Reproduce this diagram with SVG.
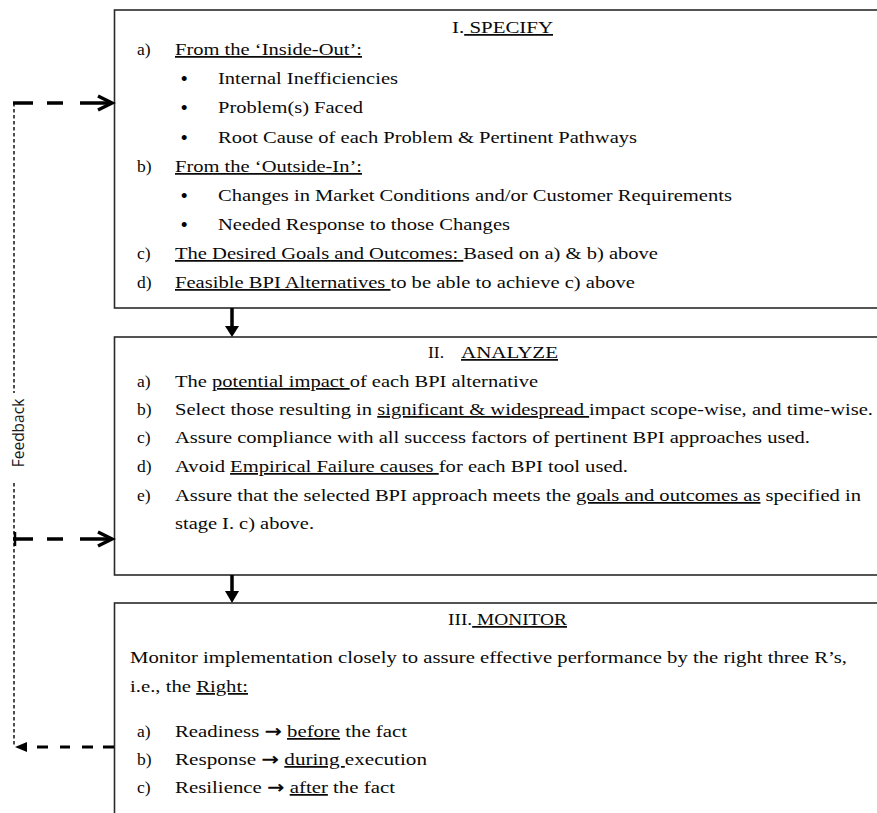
<svg xmlns="http://www.w3.org/2000/svg" width="877" height="813" viewBox="0 0 877 813">
<style>
.box{fill:#fff;stroke:#2a2a2a;stroke-width:1.6}
.t{font-family:"Liberation Serif","Times New Roman",serif;font-size:17.5px;fill:#0a0a0a}
.b{font-family:"Liberation Serif","Times New Roman",serif;font-size:21px;fill:#000}
.u{text-decoration:underline}
.ar{font-family:"DejaVu Sans",sans-serif;font-weight:bold}
.fb{font-family:"Open Sans","Noto Sans",sans-serif;font-size:15.5px;fill:#1a1a1a}
.dash{stroke:#000;stroke-width:3.5;fill:none}
.dot{stroke:#222;stroke-width:1.6;stroke-dasharray:3.5 2.5;fill:none}
.shaft{stroke:#000;stroke-width:3.5}
</style>
<rect width="877" height="813" fill="#fff"/>
<g id="specify">
<rect class="box" x="114.5" y="10" width="790" height="298"/>
<text class="t" x="452" y="33" textLength="101" lengthAdjust="spacingAndGlyphs">I.<tspan class="u"> SPECIFY</tspan></text>
<text class="t" x="137" y="55">a)</text>
<text class="t u" x="175" y="55" textLength="187" lengthAdjust="spacingAndGlyphs">From the ‘Inside-Out’:</text>
<text class="b" x="180.5" y="85.5">•</text>
<text class="t" x="218" y="84" textLength="180" lengthAdjust="spacingAndGlyphs">Internal Inefficiencies</text>
<text class="b" x="180.5" y="114.5">•</text>
<text class="t" x="218" y="113" textLength="145" lengthAdjust="spacingAndGlyphs">Problem(s) Faced</text>
<text class="b" x="180.5" y="144.5">•</text>
<text class="t" x="218" y="143" textLength="419" lengthAdjust="spacingAndGlyphs">Root Cause of each Problem &amp; Pertinent Pathways</text>
<text class="t" x="137" y="172">b)</text>
<text class="t u" x="175" y="172" textLength="187" lengthAdjust="spacingAndGlyphs">From the ‘Outside-In’:</text>
<text class="b" x="180.5" y="202.5">•</text>
<text class="t" x="218" y="201" textLength="514" lengthAdjust="spacingAndGlyphs">Changes in Market Conditions and/or Customer Requirements</text>
<text class="b" x="180.5" y="231.5">•</text>
<text class="t" x="218" y="230" textLength="292" lengthAdjust="spacingAndGlyphs">Needed Response to those Changes</text>
<text class="t" x="137" y="259">c)</text>
<text class="t" x="175" y="259" textLength="483" lengthAdjust="spacingAndGlyphs"><tspan class="u">The Desired Goals and Outcomes: </tspan>Based on a) &amp; b) above</text>
<text class="t" x="137" y="288">d)</text>
<text class="t" x="175" y="288" textLength="460" lengthAdjust="spacingAndGlyphs"><tspan class="u">Feasible BPI Alternatives </tspan>to be able to achieve c) above</text>
</g>
<g id="analyze">
<rect class="box" x="114.5" y="337" width="790" height="238"/>
<text class="t" x="428" y="358">II.</text>
<text class="t u" x="461" y="358" textLength="97" lengthAdjust="spacingAndGlyphs">ANALYZE</text>
<text class="t" x="137" y="387">a)</text>
<text class="t" x="175" y="387" textLength="363" lengthAdjust="spacingAndGlyphs">The <tspan class="u">potential impact </tspan>of each BPI alternative</text>
<text class="t" x="137" y="415">b)</text>
<text class="t" x="175" y="415" textLength="698" lengthAdjust="spacingAndGlyphs">Select those resulting in <tspan class="u">significant &amp; widespread </tspan>impact scope-wise, and time-wise.</text>
<text class="t" x="137" y="443">c)</text>
<text class="t" x="175" y="443" textLength="635" lengthAdjust="spacingAndGlyphs">Assure compliance with all success factors of pertinent BPI approaches used.</text>
<text class="t" x="137" y="472">d)</text>
<text class="t" x="175" y="472" textLength="453" lengthAdjust="spacingAndGlyphs">Avoid <tspan class="u">Empirical Failure causes </tspan>for each BPI tool used.</text>
<text class="t" x="137" y="501">e)</text>
<text class="t" x="175" y="501" textLength="686" lengthAdjust="spacingAndGlyphs">Assure that the selected BPI approach meets the <tspan class="u">goals and outcomes as</tspan> specified in</text>
<text class="t" x="175" y="529" textLength="139" lengthAdjust="spacingAndGlyphs">stage I. c) above.</text>
</g>
<g id="monitor">
<rect class="box" x="114.5" y="603" width="790" height="260"/>
<text class="t" x="448" y="625" textLength="119" lengthAdjust="spacingAndGlyphs">III.<tspan class="u"> MONITOR</tspan></text>
<text class="t" x="130" y="663" textLength="717" lengthAdjust="spacingAndGlyphs">Monitor implementation closely to assure effective performance by the right three R’s,</text>
<text class="t" x="130" y="692" textLength="118" lengthAdjust="spacingAndGlyphs">i.e., the <tspan class="u">Right:</tspan></text>
<text class="t" x="137" y="737">a)</text>
<text class="t" x="175" y="737" textLength="232" lengthAdjust="spacingAndGlyphs">Readiness <tspan class="ar">→</tspan> <tspan class="u">before</tspan> the fact</text>
<text class="t" x="137" y="765">b)</text>
<text class="t" x="175" y="765" textLength="252" lengthAdjust="spacingAndGlyphs">Response <tspan class="ar">→</tspan>  <tspan class="u">during </tspan>execution</text>
<text class="t" x="137" y="793">c)</text>
<text class="t" x="175" y="793" textLength="220" lengthAdjust="spacingAndGlyphs">Resilience <tspan class="ar">→</tspan> <tspan class="u">after</tspan> the fact</text>
</g>
<g id="connectors">
<line class="shaft" x1="232" y1="308" x2="232" y2="328"/>
<polygon points="225,326 239,326 232,337" fill="#000"/>
<line class="shaft" x1="232" y1="575" x2="232" y2="593"/>
<polygon points="225,591 239,591 232,603" fill="#000"/>
<path class="dot" d="M14 103 V393 M14 483 V747"/>
<path class="dash" d="M13 103 H33 M47 103 H63 M80 103 H110"/>
<polyline class="dash" points="98,96 112,103 98,110"/>
<path class="dash" d="M13 539 H33 M47 539 H63 M80 539 H110"/>
<polyline class="dash" points="98,532 112,539 98,546"/>
<line x1="15" y1="532" x2="15" y2="546" stroke="#000" stroke-width="2.5"/>
<path class="dash" style="stroke-width:3" d="M114 747 H103 M93 747 H82 M70 747 H60 M48 747 H37"/>
<polygon points="15,747 27,742 27,752" fill="#000"/>
<text class="fb" transform="translate(24,433) rotate(-90)" text-anchor="middle">Feedback</text>
</g>
</svg>
